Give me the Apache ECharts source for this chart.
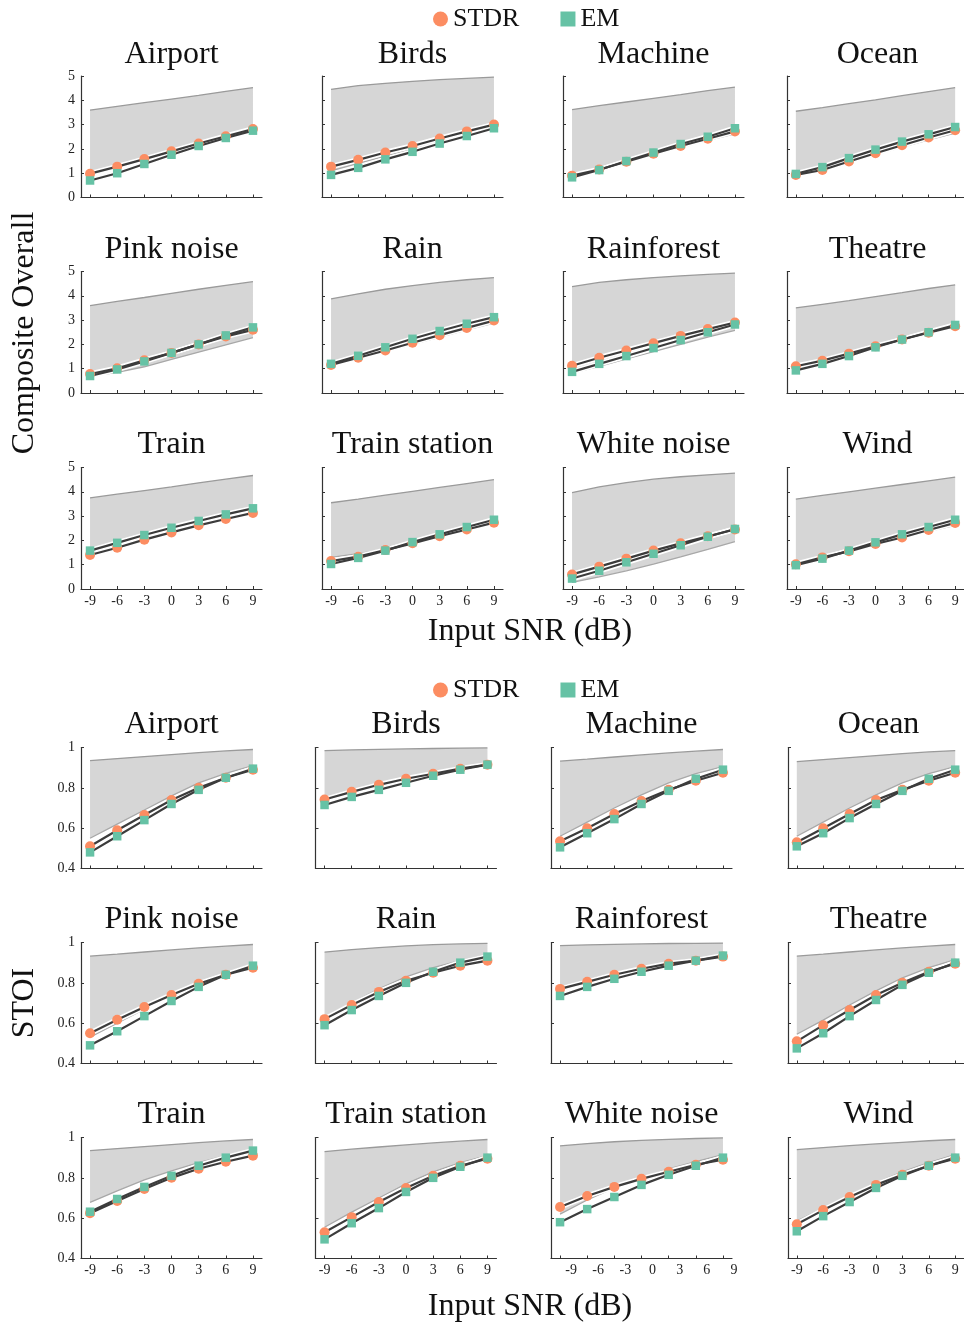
<!DOCTYPE html>
<html>
<head>
<meta charset="utf-8">
<script src="https://cdn.jsdelivr.net/npm/echarts@6/dist/echarts.min.js"></script>
<style>
  html, body { margin: 0; padding: 0; background: #ffffff; }
  #chart { width: 964px; height: 1326px; }
</style>
</head>
<body>
<div id="chart"></div>
<script>
// Input SNR levels (dB) and noise conditions
const snr = [-9, -6, -3, 0, 3, 6, 9];
const noiseTypes = ['Airport', 'Birds', 'Machine', 'Ocean', 'Pink noise', 'Rain',
  'Rainforest', 'Theatre', 'Train', 'Train station', 'White noise', 'Wind'];

// Composite Overall scores
const compositeSTDR = [
  [0.98, 1.27, 1.58, 1.90, 2.22, 2.52, 2.82],
  [1.27, 1.55, 1.85, 2.12, 2.43, 2.72, 3.00],
  [0.90, 1.15, 1.47, 1.80, 2.12, 2.42, 2.72],
  [0.93, 1.13, 1.48, 1.82, 2.15, 2.47, 2.77],
  [0.78, 1.02, 1.35, 1.65, 2.00, 2.33, 2.60],
  [1.15, 1.45, 1.75, 2.07, 2.38, 2.68, 2.98],
  [1.12, 1.45, 1.75, 2.05, 2.35, 2.63, 2.90],
  [1.10, 1.33, 1.62, 1.92, 2.20, 2.48, 2.75],
  [1.40, 1.70, 2.03, 2.33, 2.62, 2.88, 3.13],
  [1.15, 1.33, 1.60, 1.88, 2.17, 2.45, 2.73],
  [0.60, 0.92, 1.25, 1.58, 1.88, 2.17, 2.45],
  [1.02, 1.30, 1.55, 1.85, 2.12, 2.43, 2.72]
];
const compositeEM = [
  [0.70, 1.00, 1.38, 1.76, 2.12, 2.45, 2.75],
  [0.93, 1.22, 1.57, 1.88, 2.22, 2.53, 2.85],
  [0.83, 1.13, 1.50, 1.85, 2.20, 2.50, 2.85],
  [0.97, 1.25, 1.62, 1.97, 2.30, 2.60, 2.90],
  [0.70, 0.97, 1.30, 1.65, 2.00, 2.37, 2.70],
  [1.20, 1.53, 1.88, 2.23, 2.55, 2.85, 3.12],
  [0.87, 1.20, 1.52, 1.85, 2.18, 2.50, 2.82],
  [0.93, 1.20, 1.52, 1.88, 2.20, 2.50, 2.80],
  [1.58, 1.90, 2.22, 2.52, 2.80, 3.07, 3.32],
  [1.03, 1.28, 1.58, 1.93, 2.25, 2.55, 2.85],
  [0.43, 0.75, 1.10, 1.45, 1.80, 2.15, 2.47],
  [0.98, 1.25, 1.58, 1.92, 2.25, 2.55, 2.85]
];
const compositeLow = [
  [1.05, 1.32, 1.62, 1.93, 2.25, 2.55, 2.85],
  [1.10, 1.40, 1.70, 2.00, 2.33, 2.63, 2.92],
  [0.85, 1.10, 1.42, 1.74, 2.05, 2.35, 2.62],
  [0.90, 1.10, 1.42, 1.75, 2.07, 2.37, 2.65],
  [0.68, 0.85, 1.08, 1.38, 1.68, 1.98, 2.28],
  [1.10, 1.40, 1.70, 2.00, 2.30, 2.60, 2.88],
  [0.82, 1.10, 1.40, 1.70, 2.00, 2.30, 2.58],
  [1.15, 1.35, 1.60, 1.88, 2.15, 2.45, 2.72],
  [1.50, 1.80, 2.12, 2.42, 2.70, 2.97, 3.22],
  [1.30, 1.45, 1.65, 1.92, 2.20, 2.50, 2.80],
  [0.27, 0.50, 0.75, 1.02, 1.32, 1.63, 1.95],
  [1.10, 1.30, 1.55, 1.82, 2.10, 2.37, 2.62]
];
const compositeHigh = [
  [3.60, 3.75, 3.90, 4.05, 4.20, 4.37, 4.52],
  [4.45, 4.60, 4.70, 4.78, 4.85, 4.90, 4.95],
  [3.62, 3.78, 3.93, 4.08, 4.23, 4.40, 4.54],
  [3.55, 3.70, 3.86, 4.02, 4.19, 4.36, 4.52],
  [3.60, 3.77, 3.93, 4.10, 4.27, 4.43, 4.58],
  [3.87, 4.08, 4.27, 4.42, 4.55, 4.66, 4.75],
  [4.38, 4.55, 4.66, 4.75, 4.82, 4.88, 4.93],
  [3.50, 3.65, 3.80, 3.97, 4.13, 4.30, 4.45],
  [3.75, 3.90, 4.05, 4.20, 4.37, 4.52, 4.67],
  [3.55, 3.70, 3.86, 4.02, 4.18, 4.34, 4.50],
  [3.97, 4.20, 4.38, 4.52, 4.62, 4.70, 4.77],
  [3.70, 3.85, 4.00, 4.15, 4.30, 4.45, 4.60]
];

// STOI scores
const stoiSTDR = [
  [0.510, 0.590, 0.665, 0.740, 0.800, 0.850, 0.890],
  [0.742, 0.780, 0.815, 0.845, 0.870, 0.895, 0.915],
  [0.535, 0.600, 0.670, 0.735, 0.790, 0.835, 0.875],
  [0.530, 0.600, 0.670, 0.740, 0.790, 0.835, 0.875],
  [0.550, 0.617, 0.680, 0.740, 0.795, 0.840, 0.875],
  [0.620, 0.690, 0.755, 0.810, 0.850, 0.885, 0.910],
  [0.770, 0.805, 0.840, 0.870, 0.895, 0.910, 0.930],
  [0.510, 0.590, 0.665, 0.740, 0.800, 0.855, 0.895],
  [0.625, 0.685, 0.745, 0.800, 0.845, 0.880, 0.910],
  [0.530, 0.605, 0.680, 0.750, 0.810, 0.860, 0.895],
  [0.655, 0.710, 0.755, 0.795, 0.830, 0.865, 0.890],
  [0.570, 0.640, 0.705, 0.765, 0.815, 0.860, 0.895]
];
const stoiEM = [
  [0.480, 0.560, 0.640, 0.720, 0.790, 0.850, 0.895],
  [0.715, 0.755, 0.790, 0.825, 0.860, 0.890, 0.915],
  [0.505, 0.575, 0.645, 0.720, 0.785, 0.845, 0.890],
  [0.510, 0.575, 0.650, 0.720, 0.785, 0.845, 0.890],
  [0.490, 0.560, 0.635, 0.710, 0.780, 0.840, 0.885],
  [0.590, 0.665, 0.735, 0.800, 0.855, 0.900, 0.930],
  [0.735, 0.780, 0.820, 0.855, 0.885, 0.910, 0.935],
  [0.475, 0.550, 0.635, 0.715, 0.790, 0.850, 0.900],
  [0.632, 0.695, 0.755, 0.810, 0.860, 0.900, 0.935],
  [0.495, 0.575, 0.650, 0.730, 0.800, 0.855, 0.900],
  [0.580, 0.645, 0.705, 0.765, 0.815, 0.860, 0.900],
  [0.535, 0.610, 0.680, 0.750, 0.810, 0.860, 0.900]
];
const stoiLow = [
  [0.550, 0.620, 0.690, 0.760, 0.825, 0.872, 0.910],
  [0.750, 0.785, 0.820, 0.850, 0.875, 0.900, 0.925],
  [0.560, 0.630, 0.700, 0.765, 0.825, 0.870, 0.905],
  [0.560, 0.630, 0.700, 0.765, 0.825, 0.870, 0.905],
  [0.530, 0.600, 0.670, 0.740, 0.800, 0.850, 0.895],
  [0.630, 0.700, 0.770, 0.830, 0.875, 0.910, 0.940],
  [0.780, 0.815, 0.850, 0.877, 0.900, 0.920, 0.940],
  [0.545, 0.615, 0.690, 0.760, 0.825, 0.875, 0.915],
  [0.678, 0.735, 0.790, 0.835, 0.875, 0.910, 0.940],
  [0.555, 0.630, 0.700, 0.770, 0.830, 0.875, 0.910],
  [0.620, 0.690, 0.750, 0.800, 0.845, 0.880, 0.915],
  [0.585, 0.650, 0.715, 0.775, 0.830, 0.875, 0.915]
];
const stoiHigh = [
  [0.935, 0.945, 0.955, 0.965, 0.975, 0.983, 0.990],
  [0.985, 0.988, 0.991, 0.993, 0.995, 0.997, 0.998],
  [0.932, 0.942, 0.953, 0.963, 0.973, 0.982, 0.990],
  [0.930, 0.940, 0.950, 0.960, 0.970, 0.978, 0.985],
  [0.932, 0.942, 0.953, 0.963, 0.973, 0.982, 0.990],
  [0.952, 0.965, 0.975, 0.983, 0.989, 0.993, 0.996],
  [0.985, 0.988, 0.991, 0.993, 0.995, 0.996, 0.997],
  [0.932, 0.942, 0.953, 0.963, 0.973, 0.982, 0.990],
  [0.935, 0.945, 0.955, 0.965, 0.975, 0.983, 0.990],
  [0.930, 0.942, 0.953, 0.963, 0.973, 0.982, 0.990],
  [0.958, 0.970, 0.979, 0.986, 0.991, 0.995, 0.998],
  [0.940, 0.950, 0.960, 0.968, 0.976, 0.984, 0.990]
];

const SERIF = '"Liberation Serif", "DejaVu Serif", serif';
const ORANGE = '#FC8D62';
const GREEN = '#66C2A5';
const LINE_DARK = '#3c3c3c';
const AXIS_COLOR = '#333333';

// Panel geometry for the two 3x4 blocks
const PANEL_W = 181;
const blocks = [
  {
    lefts: [81, 322, 563, 787],
    tops: [76, 271.5, 467.5],
    height: 121.5,
    titleY: [55, 250, 445],
    yMin: 0, yMax: 5, yStep: 1,
    stdr: compositeSTDR, em: compositeEM, low: compositeLow, high: compositeHigh
  },
  {
    lefts: [81, 315.5, 551, 788],
    tops: [747.5, 942.5, 1137.5],
    height: 121,
    titleY: [725, 920, 1115],
    yMin: 0.4, yMax: 1, yStep: 0.2,
    stdr: stoiSTDR, em: stoiEM, low: stoiLow, high: stoiHigh
  }
];

const pairs = (vals) => snr.map((x, i) => [x, vals[i]]);

// Shaded range between a lower and an upper curve, placed through the axes' scales
function bandRenderer(low, high) {
  return function (params, api) {
    const top = snr.map((x, i) => api.coord([x, high[i]]));
    const bottom = snr.map((x, i) => api.coord([x, low[i]])).reverse();
    return {
      type: 'polygon',
      shape: { points: top.concat(bottom) },
      style: { fill: '#d6d6d6', stroke: null }
    };
  };
}

const grid = [], xAxis = [], yAxis = [], series = [], graphic = [];

blocks.forEach((b, bi) => {
  noiseTypes.forEach((name, k) => {
    const r = Math.floor(k / 4), c = k % 4;
    const g = grid.length;
    const left = b.lefts[c], top = b.tops[r];
    grid.push({ left: left, top: top, width: PANEL_W, height: b.height, containLabel: false });

    const isBottom = r === 2, isLeft = c === 0;
    const shiftLabels = bi === 1 && k === 10;
    xAxis.push({
      type: 'value', gridIndex: g, min: -10, max: 10,
      splitLine: { show: false },
      axisLine: { onZero: false, lineStyle: { color: AXIS_COLOR, width: 1.2 } },
      axisTick: { inside: true, length: 3, customValues: snr, lineStyle: { color: AXIS_COLOR, width: 1 } },
      axisLabel: {
        show: isBottom, customValues: snr, margin: 5,
        fontFamily: SERIF, fontSize: 14, color: '#222',
        padding: shiftLabels ? [0, 0, 0, 22] : 0
      }
    });
    yAxis.push({
      type: 'value', gridIndex: g, min: b.yMin, max: b.yMax, interval: b.yStep,
      splitLine: { show: false },
      axisLine: { show: true, onZero: false, lineStyle: { color: AXIS_COLOR, width: 1.2 } },
      axisTick: { show: true, inside: true, length: 3, lineStyle: { color: AXIS_COLOR, width: 1 } },
      axisLabel: { show: isLeft, margin: 6, fontFamily: SERIF, fontSize: 14, color: '#222' }
    });

    const low = b.low[k], high = b.high[k];
    // shaded range
    series.push({
      type: 'custom', xAxisIndex: g, yAxisIndex: g, silent: true, z: 1,
      data: [[0, 0]], renderItem: bandRenderer(low, high)
    });
    // range edges
    series.push({
      type: 'line', xAxisIndex: g, yAxisIndex: g, symbol: 'none', silent: true, z: 2,
      data: pairs(high), lineStyle: { color: '#9a9a9a', width: 1.3 }
    });
    series.push({
      type: 'line', xAxisIndex: g, yAxisIndex: g, symbol: 'none', silent: true, z: 2,
      data: pairs(low), lineStyle: { color: '#a8a8a8', width: 1.3 }
    });

    // white casing under the method curves
    [b.stdr[k], b.em[k]].forEach(vals => {
      series.push({
        type: 'line', xAxisIndex: g, yAxisIndex: g, symbol: 'none', silent: true,
        data: pairs(vals), lineStyle: { color: '#ffffff', width: 5.5 }, z: 3
      });
    });
    // method curves
    [['STDR', b.stdr[k]], ['EM', b.em[k]]].forEach(([nm, vals]) => {
      series.push({
        name: nm, type: 'line', xAxisIndex: g, yAxisIndex: g, symbol: 'none', silent: true,
        data: pairs(vals), lineStyle: { color: LINE_DARK, width: 2.2 }, z: 4
      });
    });
    // markers
    series.push({
      name: 'STDR', type: 'scatter', xAxisIndex: g, yAxisIndex: g, symbol: 'circle', symbolSize: 10,
      data: pairs(b.stdr[k]), itemStyle: { color: ORANGE, opacity: 1 }, z: 5, silent: true
    });
    series.push({
      name: 'EM', type: 'scatter', xAxisIndex: g, yAxisIndex: g, symbol: 'rect', symbolSize: 8.5,
      data: pairs(b.em[k]), itemStyle: { color: GREEN, opacity: 1 }, z: 6, silent: true
    });

    // panel title
    graphic.push({
      type: 'text', x: left + PANEL_W / 2, y: b.titleY[r],
      style: { text: name, font: '32px ' + SERIF, fill: '#111', align: 'center', verticalAlign: 'middle' }
    });
  });
});

// axis names
const nameFont = '32px ' + SERIF;
graphic.push(
  { type: 'text', x: 530, y: 632, style: { text: 'Input SNR (dB)', font: nameFont, fill: '#111', align: 'center', verticalAlign: 'middle' } },
  { type: 'text', x: 530, y: 1307, style: { text: 'Input SNR (dB)', font: nameFont, fill: '#111', align: 'center', verticalAlign: 'middle' } },
  { type: 'text', x: 25, y: 333, rotation: Math.PI / 2, style: { text: 'Composite Overall', font: nameFont, fill: '#111', align: 'center', verticalAlign: 'middle' } },
  { type: 'text', x: 25, y: 1003, rotation: Math.PI / 2, style: { text: 'STOI', font: nameFont, fill: '#111', align: 'center', verticalAlign: 'middle' } }
);

const legendItems = [
  { name: 'STDR', icon: 'circle', itemStyle: { color: ORANGE } },
  { name: 'EM', icon: 'rect', itemStyle: { color: GREEN } }
];
const legendBase = {
  left: 428, itemWidth: 15, itemHeight: 15, itemGap: 41, selectedMode: false,
  textStyle: { fontFamily: SERIF, fontSize: 26, color: '#111' },
  data: legendItems
};

const chart = echarts.init(document.getElementById('chart'), null, { renderer: 'canvas' });
chart.setOption({
  backgroundColor: '#ffffff',
  animation: false,
  legend: [
    Object.assign({}, legendBase, { top: 1 }),
    Object.assign({}, legendBase, { top: 672 })
  ],
  grid: grid,
  xAxis: xAxis,
  yAxis: yAxis,
  series: series,
  graphic: graphic
});
</script>
</body>
</html>
